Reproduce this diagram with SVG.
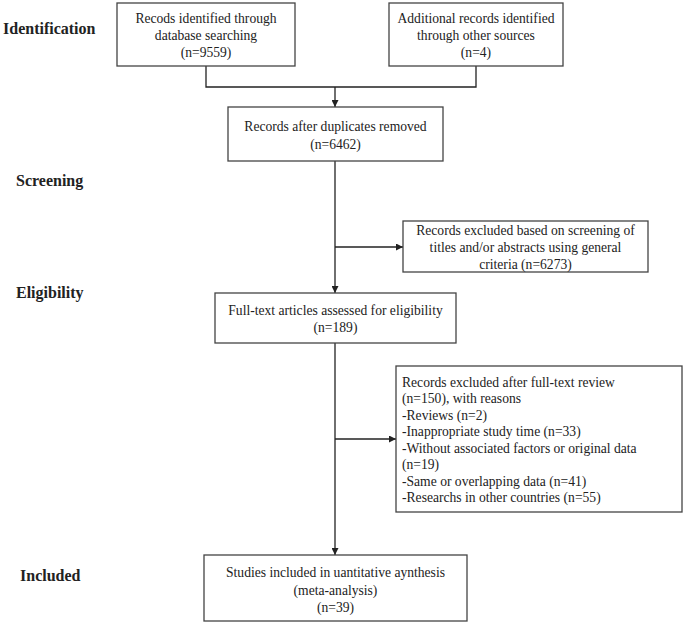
<svg xmlns="http://www.w3.org/2000/svg" width="685" height="625" viewBox="0 0 685 625">
<style>
.box{fill:#fff;stroke:#444;stroke-width:1.3}
.t{font-family:"Liberation Serif","Times New Roman",serif;font-size:13.6px;fill:#222;text-anchor:middle}
.tl{font-family:"Liberation Serif","Times New Roman",serif;font-size:13.6px;fill:#222}
.lab{font-family:"Liberation Serif","Times New Roman",serif;font-size:16px;font-weight:bold;fill:#222}
.c{fill:none;stroke:#222;stroke-width:1.3}
</style>
<defs>
<marker id="arr" viewBox="0 0 10 10" refX="10" refY="5" markerWidth="9" markerHeight="7" markerUnits="userSpaceOnUse" orient="auto">
<path d="M0,0 L10,5 L0,10 Z" fill="#222"/>
</marker>
</defs>
<rect width="685" height="625" fill="#fff"/>
<g id="labels">
<text class="lab" x="3" y="33.5">Identification</text>
<text class="lab" x="16" y="185.5">Screening</text>
<text class="lab" x="16" y="298">Eligibility</text>
<text class="lab" x="20" y="580.5">Included</text>
</g>
<g id="connectors">
<path class="c" d="M206,66 V87 H476 V66"/>
<path class="c" d="M335,87 V107" marker-end="url(#arr)"/>
<path class="c" d="M335,161 V293" marker-end="url(#arr)"/>
<path class="c" d="M335,247 H403" marker-end="url(#arr)"/>
<path class="c" d="M335,343 V555" marker-end="url(#arr)"/>
<path class="c" d="M335,439 H396" marker-end="url(#arr)"/>
</g>
<g id="n1">
<rect class="box" x="117" y="3" width="178" height="63"/>
<text class="t" x="206" y="23">Recods identified through</text>
<text class="t" x="206" y="39.5">database searching</text>
<text class="t" x="206" y="56.5">(n=9559)</text>
</g>
<g id="n2">
<rect class="box" x="389" y="3" width="174" height="63"/>
<text class="t" x="476" y="23">Additional records identified</text>
<text class="t" x="476" y="39.5">through other sources</text>
<text class="t" x="476" y="56.5">(n=4)</text>
</g>
<g id="n3">
<rect class="box" x="228" y="107" width="215" height="54"/>
<text class="t" x="335.5" y="130.5">Records after duplicates removed</text>
<text class="t" x="335.5" y="148.5">(n=6462)</text>
</g>
<g id="n4">
<rect class="box" x="403" y="221" width="245" height="51"/>
<text class="t" x="525.5" y="234.5">Records excluded based on screening of</text>
<text class="t" x="525.5" y="251.5">titles and/or abstracts using general</text>
<text class="t" x="525.5" y="268.5">criteria (n=6273)</text>
</g>
<g id="n5">
<rect class="box" x="215" y="293" width="241" height="50"/>
<text class="t" x="335.5" y="314.5">Full-text articles assessed for eligibility</text>
<text class="t" x="335.5" y="331.5">(n=189)</text>
</g>
<g id="n6">
<rect class="box" x="396" y="366" width="286" height="146"/>
<text class="tl" x="402" y="386.5">Records excluded after full-text review</text>
<text class="tl" x="402" y="403">(n=150), with reasons</text>
<text class="tl" x="402" y="419.5">-Reviews (n=2)</text>
<text class="tl" x="402" y="436">-Inappropriate study time (n=33)</text>
<text class="tl" x="402" y="452.5">-Without associated factors or original data</text>
<text class="tl" x="402" y="469">(n=19)</text>
<text class="tl" x="402" y="485.5">-Same or overlapping data (n=41)</text>
<text class="tl" x="402" y="502">-Researchs in other countries (n=55)</text>
</g>
<g id="n7">
<rect class="box" x="204" y="555" width="263" height="66"/>
<text class="t" x="335.5" y="576.5">Studies included in uantitative aynthesis</text>
<text class="t" x="335.5" y="594.5">(meta-analysis)</text>
<text class="t" x="335.5" y="611.5">(n=39)</text>
</g>
</svg>
